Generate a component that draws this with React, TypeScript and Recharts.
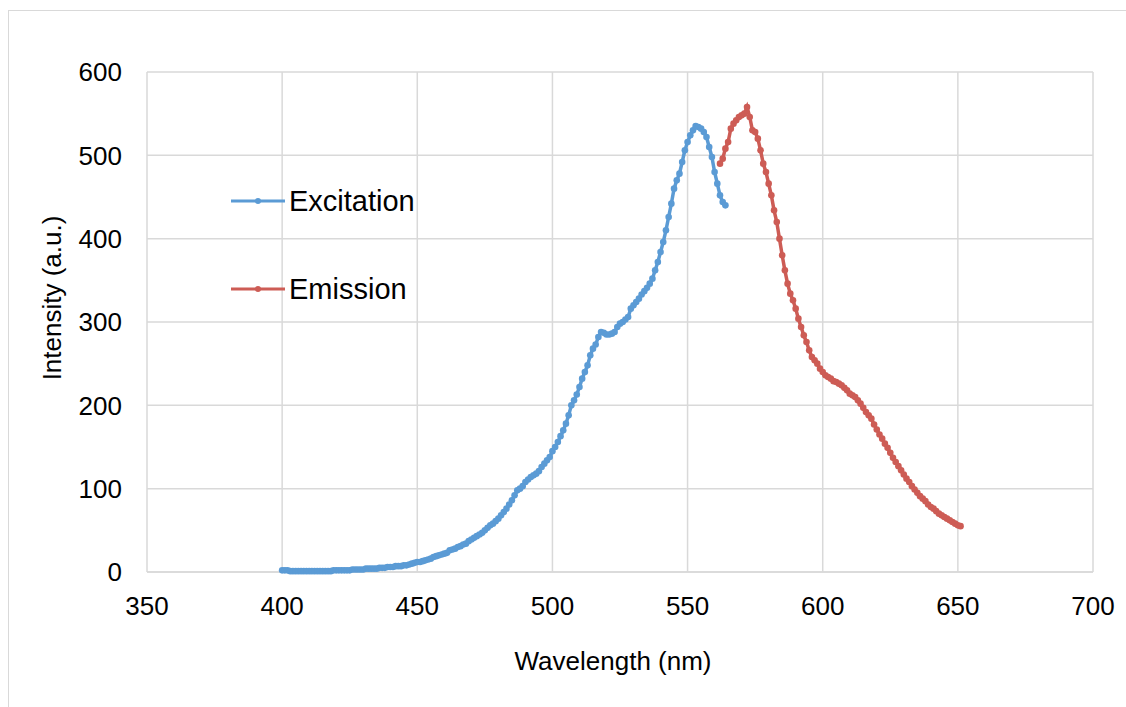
import React from 'react';
import { LineChart, Line, XAxis, YAxis, CartesianGrid, Legend } from 'recharts';

// wavelengths are sampled every 1 nm from the start value
const excitationStart = 400;
const emissionStart = 562;

const excitationIntensity = [
  2, 2, 2, 1, 1, 1, 1, 1, 1, 1,
  1, 1, 1, 1, 1, 1, 1, 1, 1, 2,
  2, 2, 2, 2, 2, 2, 3, 3, 3, 3,
  3, 4, 4, 4, 4, 4, 5, 5, 5, 6,
  6, 6, 7, 7, 7, 8, 8, 9, 10, 11,
  12, 12, 13, 14, 15, 16, 18, 19, 20, 21,
  22, 23, 26, 27, 28, 30, 31, 33, 34, 37,
  39, 41, 43, 45, 47, 50, 53, 56, 58, 61,
  64, 68, 72, 76, 81, 86, 92, 98, 100, 103,
  108, 111, 114, 116, 118, 121, 126, 130, 134, 138,
  145, 150, 156, 163, 170, 178, 188, 200, 206, 213,
  222, 232, 240, 248, 260, 268, 273, 282, 288, 287,
  285, 285, 286, 288, 294, 298, 300, 303, 306, 316,
  320, 324, 328, 333, 337, 341, 346, 352, 362, 372,
  384, 396, 410, 426, 442, 460, 470, 478, 492, 506,
  516, 524, 530, 535, 534, 532, 528, 522, 510, 498,
  480, 466, 452, 444, 440,
];

const emissionIntensity = [
  490, 496, 508, 516, 532, 538, 542, 546,
  548, 550, 558, 546, 530, 528, 520, 506, 490, 480,
  466, 452, 434, 420, 400, 380, 362, 346, 334, 326,
  316, 304, 294, 284, 276, 266, 258, 254, 250, 244,
  240, 236, 234, 232, 229, 228, 226, 224, 221, 218,
  214, 212, 210, 206, 202, 197, 192, 188, 184, 177,
  171, 165, 160, 154, 149, 143, 137, 132, 127, 122,
  117, 112, 108, 103, 99, 95, 91, 88, 85, 81,
  78, 76, 73, 70, 68, 66, 64, 62, 60, 58,
  56, 55,
];

const xTicks = [350, 400, 450, 500, 550, 600, 650, 700];
const yTicks = [0, 100, 200, 300, 400, 500, 600];

const series = [
  { name: 'Excitation', color: '#5B9BD5', start: excitationStart, values: excitationIntensity },
  { name: 'Emission', color: '#CD5C55', start: emissionStart, values: emissionIntensity },
];

const toPoints = (start: number, values: number[]) =>
  values.map((v, i) => ({ wl: start + i, intensity: v }));

const FONT = '"Liberation Sans", Arial, sans-serif';
const GRID = '#d9d9d9';

const renderLegend = () => (
  <div style={{ fontFamily: FONT }}>
    {series.map((s, i) => (
      <div key={s.name} style={{ display: 'flex', alignItems: 'center', height: 30, marginTop: i === 0 ? 0 : 58 }}>
        <svg width={58} height={10}>
          <line x1={0} y1={5} x2={54} y2={5} stroke={s.color} strokeWidth={3} />
          <circle cx={27} cy={5} r={3} fill={s.color} />
        </svg>
        <span style={{ fontSize: 29, color: '#000' }}>{s.name}</span>
      </div>
    ))}
  </div>
);

export default function App() {
  return (
    <div style={{ position: 'absolute', left: 0, top: 0, width: 1126, height: 707, overflow: 'hidden', background: '#fff' }}>
      <div style={{ position: 'absolute', left: 8, top: 10, width: 1140, height: 720, border: `1px solid ${GRID}` }} />
      <LineChart
        width={1126}
        height={707}
        margin={{ top: 72, right: 33, bottom: 75, left: 47 }}
        style={{ position: 'absolute', left: 0, top: 0 }}
      >
        <CartesianGrid stroke={GRID} strokeWidth={1.5} />
        <XAxis
          type="number"
          dataKey="wl"
          domain={[350, 700]}
          ticks={xTicks}
          height={60}
          tickLine={false}
          tickMargin={19}
          axisLine={{ stroke: GRID, strokeWidth: 1.5 }}
          tick={{ fill: '#000', fontSize: 26, fontFamily: FONT }}
          allowDataOverflow
        />
        <YAxis
          type="number"
          domain={[0, 600]}
          ticks={yTicks}
          width={100}
          tickLine={false}
          tickMargin={19}
          axisLine={false}
          tick={{ fill: '#000', fontSize: 26, fontFamily: FONT }}
        />
        <Legend
          layout="vertical"
          align="center"
          verticalAlign="middle"
          content={renderLegend}
          wrapperStyle={{ left: 231, top: 186, width: 220 }}
        />
        {series.map((s) => (
          <Line
            key={s.name}
            name={s.name}
            data={toPoints(s.start, s.values)}
            dataKey="intensity"
            stroke={s.color}
            strokeWidth={3.5}
            dot={{ r: 3.3, fill: s.color, stroke: s.color, strokeWidth: 0 }}
            isAnimationActive={false}
          />
        ))}
      </LineChart>
      <div style={{ position: 'absolute', left: 0, width: 1226, top: 646, textAlign: 'center', fontFamily: FONT, fontSize: 26, color: '#000' }}>
        Wavelength (nm)
      </div>
      <div
        style={{
          position: 'absolute',
          left: 52,
          top: 298,
          transform: 'translate(-50%, -50%) rotate(-90deg)',
          whiteSpace: 'nowrap',
          fontFamily: FONT,
          fontSize: 26,
          color: '#000',
        }}
      >
        Intensity (a.u.)
      </div>
    </div>
  );
}
